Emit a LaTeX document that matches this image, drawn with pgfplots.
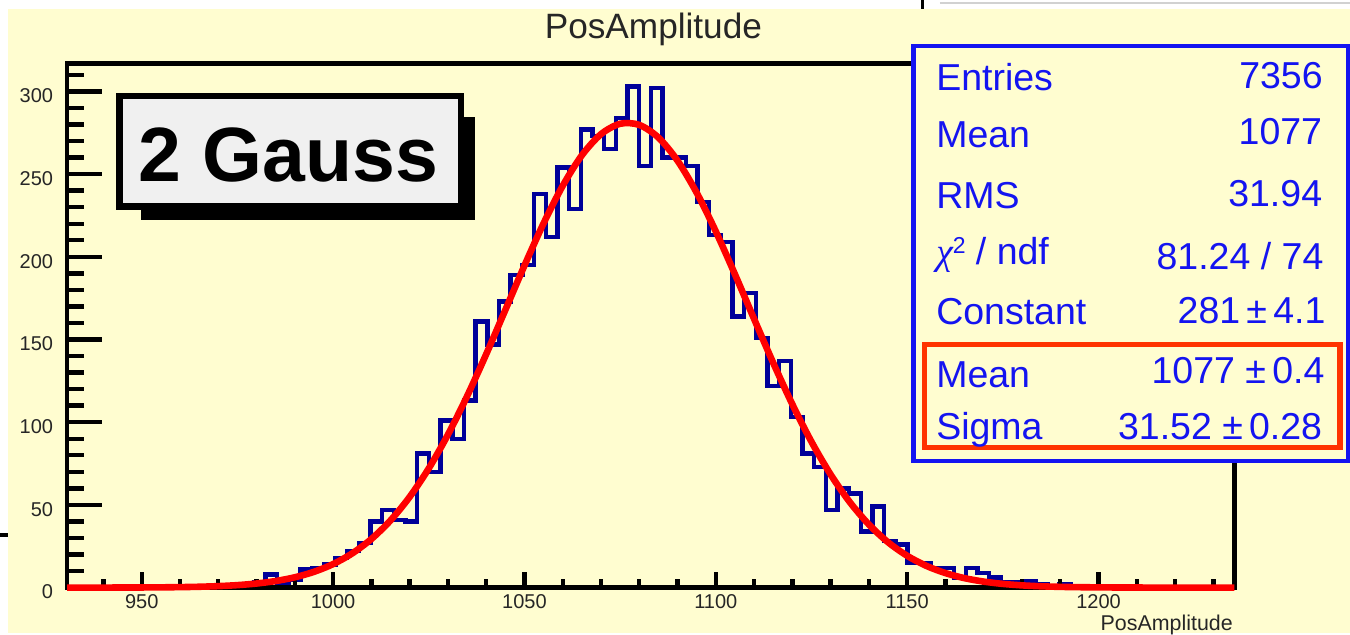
\documentclass[border=0pt]{standalone}
\usepackage{fontspec}
\setmainfont{Liberation Sans}
\newfontfamily\symfont{Liberation Serif}
\usepackage{pgfplots}
\usepackage{pgfplotstable}
\pgfplotsset{compat=1.18}

\definecolor{canvas}{RGB}{255,253,208}
\definecolor{histblue}{RGB}{0,0,153}
\definecolor{statblue}{RGB}{20,20,240}
\definecolor{boxred}{RGB}{255,51,0}
\definecolor{pavegray}{RGB}{240,240,240}

% PosAmplitude histogram: left bin edges (bin width 3.05) and counts
\pgfplotstableread{
x y
930.5 0
954.9 1
957.95 0
961.0 1
964.05 1
967.1 0
970.15 1
973.2 1
976.25 2
979.3 3
982.35 8
985.4 3
988.45 5
991.5 11
994.55 12
997.6 14
1000.65 18
1003.7 22
1006.75 27
1009.8 40
1012.85 47
1015.9 41
1018.95 40
1022.0 81
1025.05 70
1028.1 101
1031.15 90
1034.2 113
1037.25 161
1040.3 147
1043.35 173
1046.4 189
1049.45 195
1052.5 238
1055.55 212
1058.6 254
1061.65 229
1064.7 277
1067.75 273
1070.8 265
1073.85 284
1076.9 303
1079.95 255
1083.0 302
1086.05 260
1089.1 260
1092.15 255
1095.2 233
1098.25 213
1101.3 209
1104.35 164
1107.4 178
1110.45 151
1113.5 122
1116.55 137
1119.6 103
1122.65 81
1125.7 73
1128.75 47
1131.8 60
1134.85 57
1137.9 34
1140.95 49
1144.0 28
1147.05 26
1150.1 15
1153.15 15
1156.2 12
1159.25 12
1162.3 6
1165.35 12
1168.4 9
1171.45 6
1174.5 3
1177.55 3
1180.6 4
1183.65 2
1186.7 1
1189.75 2
1192.8 1
1195.85 1
1198.9 1
1201.95 0
1205.0 1
1208.05 0
1235.5 0
}\histtable

% Gaussian fit: Constant 281, Mean 1077, Sigma 31.52, tabulated
\pgfplotstableread{
x y
930.5 0.005
935 0.011
940 0.022
945 0.044
950 0.084
955 0.157
960 0.286
965 0.509
970 0.883
975 1.495
980 2.47
985 3.97
990 6.23
995 9.53
1000 14.21
1005 20.68
1010 29.36
1015 40.61
1020 54.80
1025 72.08
1030 92.45
1035 115.66
1040 141.09
1045 167.84
1050 194.70
1055 220.25
1060 242.95
1065 261.36
1070 274.15
1075 280.43
1080 279.73
1085 272.09
1090 258.09
1095 238.72
1100 215.32
1105 189.39
1110 162.44
1115 135.86
1120 110.80
1125 88.13
1130 68.36
1135 51.70
1140 38.13
1145 27.42
1150 19.23
1155 13.15
1160 8.77
1165 5.70
1170 3.62
1175 2.24
1180 1.35
1185 0.79
1190 0.45
1195 0.25
1200 0.14
1205 0.074
1210 0.038
1215 0.019
1220 0.010
1225 0.005
1230 0.002
1235.5 0.001
}\fittable

\pgfplotsset{
  frame geometry/.style={
    at={(33.55pt,22.65pt)}, anchor=south west,
    scale only axis, width=583.75pt, height=262.2pt,
    xmin=930.5, xmax=1235.5, ymin=0, ymax=317,
    tick align=inside,
    tick style={black, line width=2.2pt},
    ticklabel style={font=\fontsize{10}{12}\selectfont, text=black!85},
    /pgf/number format/assume math mode=true,
    /pgf/number format/1000 sep={},
  }
}

\begin{document}
\begin{tikzpicture}
\begin{scope}[x=0.5pt,y=0.5pt]
  \useasboundingbox (0,0) rectangle (1350,633);
  \fill[white] (0,0) rectangle (1350,633);
  \fill[canvas] (8.3,0) rectangle (1350,623.7);
  \draw[black, line width=1.7pt] (0,98) -- (8.3,98);
  \draw[black!18, line width=1pt] (940,630.3) -- (1350,630.3);
  \draw[black, line width=1.2pt] (922.8,633) -- (922.8,623.7);
\end{scope}

% frame, x ticks and the histogram
\begin{axis}[frame geometry,
  axis on top,
  axis line style={line width=2.35pt, line join=miter, black},
  xtick pos=left, ytick=\empty,
  xtick={950,1000,...,1200}, minor xtick={940,950,...,1230},
  major tick length=8pt, minor tick length=4.4pt,
]
\addplot[histblue, line width=2.2pt, const plot, line join=miter] table[x=x,y=y] {\histtable};
\end{axis}

% y ticks and the fit curve on top of the frame
\begin{axis}[frame geometry,
  axis line style={draw=none},
  xtick=\empty, ytick pos=left,
  ytick={0,50,...,300}, minor ytick={10,20,...,310},
  major tick length=17.5pt, minor tick length=8.6pt,
  yticklabel style={xshift=-3.5pt, yshift=-2.2pt},
  clip=false,
]
\addplot[red, line width=3.3pt, smooth] table[x=x,y=y] {\fittable};
\end{axis}

\begin{scope}[x=0.5pt,y=0.5pt]
  % title and axis label
  \node[anchor=base, inner sep=0, font=\fontsize{17.6}{20}\selectfont, text=black!85] at (653.5,594.5) {PosAmplitude};
  \node[anchor=base east, inner sep=0, font=\fontsize{10.7}{12}\selectfont, text=black!85] at (1233.3,2.7) {PosAmplitude};

  % "2 Gauss" pave with shadow
  \fill[black] (141,413) rectangle (475,516.3);
  \draw[black, line width=3.25pt, fill=pavegray, line join=miter] (119.3,537) rectangle (461,426.3);
  \node[anchor=base, inner sep=0, font=\fontsize{38.5}{40}\selectfont\bfseries] at (288.3,451.3) {2 Gauss};

  % statistics box
  \draw[statblue, line width=2.2pt, fill=canvas, line join=miter] (913.8,587.2) rectangle (1348,172.2);
  \draw[boxred, line width=2.8pt, line join=miter] (924.5,288.5) rectangle (1340.3,185.5);
  \begin{scope}[every node/.style={inner sep=0, text=statblue, font=\fontsize{18.75}{22}\selectfont}]
    \node[anchor=base west] at (936,542.3) {Entries};
    \node[anchor=base west] at (936,485.7) {Mean};
    \node[anchor=base west] at (936,424.7) {RMS};
    \node[anchor=base west] at (936,368) {{\symfont\itshape χ}\raisebox{5.6pt}{\fontsize{11.5}{12}\selectfont 2} / ndf};
    \node[anchor=base west] at (936,308) {Constant};
    \node[anchor=base west] at (936,245.7) {Mean};
    \node[anchor=base west] at (936,193) {Sigma};
    \node[anchor=base east] at (1323.3,544.7) {7356};
    \node[anchor=base east] at (1322.7,488) {1077};
    \node[anchor=base east] at (1322.7,426.3) {31.94};
    \node[anchor=base east] at (1324,363) {81.24 / 74};
    \node[anchor=base east] at (1326,309.7) {281\,±\,4.1};
    \node[anchor=base east] at (1325,249.7) {1077 ±\,0.4};
    \node[anchor=base east] at (1322.7,193) {31.52 ±\,0.28};
  \end{scope}
\end{scope}
\end{tikzpicture}
\end{document}
